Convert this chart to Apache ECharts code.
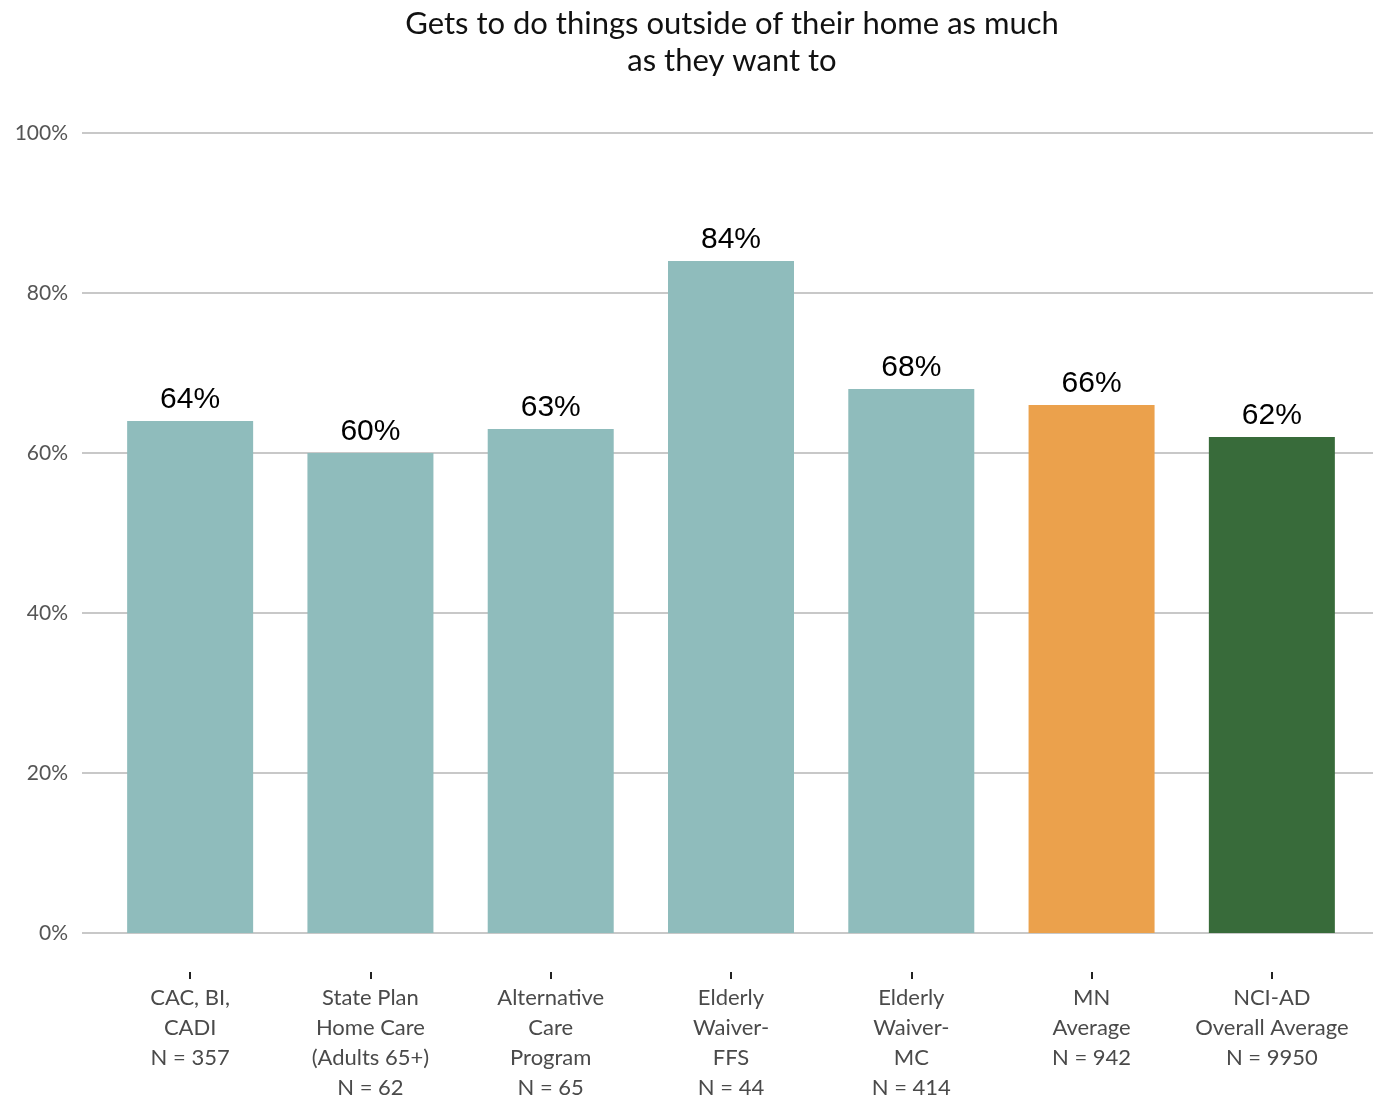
<!DOCTYPE html>
<html>
<head>
<meta charset="utf-8">
<script src="https://cdn.jsdelivr.net/npm/echarts@6/dist/echarts.min.js"></script>
<style>
  html, body { margin: 0; padding: 0; background: #ffffff; }
  #chart { width: 1373px; height: 1098px; }
</style>
</head>
<body>
<div id="chart"></div>
<script>
// Programme categories (label lines joined by \n)
const categories = [
  'CAC, BI,\nCADI\nN = 357',
  'State Plan\nHome Care\n(Adults 65+)\nN = 62',
  'Alternative\nCare\nProgram\nN = 65',
  'Elderly\nWaiver-\nFFS\nN = 44',
  'Elderly\nWaiver-\nMC\nN = 414',
  'MN\nAverage\nN = 942',
  'NCI-AD\nOverall Average\nN = 9950'
];
// Percent answering yes
const values = [64, 60, 63, 84, 68, 66, 62];
// Bar fill per category
const barColors = ['#8fbcbc', '#8fbcbc', '#8fbcbc', '#8fbcbc', '#8fbcbc', '#eba14c', '#386b3a'];
// Y axis tick values
const yTicks = [0, 20, 40, 60, 80, 100];

const labelFont = 'Lato, "Open Sans", sans-serif';

const chart = echarts.init(document.getElementById('chart'), null, { renderer: 'canvas' });

chart.setOption({
  animation: false,
  backgroundColor: '#ffffff',
  title: {
    text: 'Gets to do things outside of their home as much\nas they want to',
    left: 727,
    textAlign: 'center',
    top: 0,
    textStyle: {
      fontFamily: labelFont,
      fontWeight: 'normal',
      fontSize: 31,
      lineHeight: 37,
      color: '#111111'
    }
  },
  grid: [
    // bars
    { left: 100, right: 11, top: 133, bottom: 165, outerBoundsMode: 'none' },
    // full-width gridlines and y labels
    { left: 82, right: 0, top: 133, bottom: 165, outerBoundsMode: 'none' },
    // category ticks and labels, set below the baseline
    { left: 100, right: 11, top: 133, bottom: 126, outerBoundsMode: 'none' }
  ],
  xAxis: [
    {
      type: 'category',
      gridIndex: 0,
      data: categories,
      show: false
    },
    {
      type: 'category',
      gridIndex: 1,
      data: [''],
      show: false
    },
    {
      type: 'category',
      gridIndex: 2,
      data: categories,
      axisLine: { show: false },
      axisTick: { show: true, alignWithLabel: true, length: 7, lineStyle: { color: '#222222', width: 2 } },
      axisLabel: {
        interval: 0,
        margin: 11,
        fontFamily: labelFont,
        fontSize: 22,
        lineHeight: 30,
        color: '#4a4a4a'
      },
      splitLine: { show: false }
    }
  ],
  yAxis: [
    {
      type: 'value',
      gridIndex: 0,
      min: 0,
      max: 100,
      interval: 20,
      show: false
    },
    {
      type: 'value',
      gridIndex: 1,
      min: yTicks[0],
      max: yTicks[yTicks.length - 1],
      interval: yTicks[1] - yTicks[0],
      axisLine: { show: false },
      axisTick: { show: false },
      axisLabel: {
        margin: 14,
        fontFamily: labelFont,
        fontSize: 21,
        color: '#555555',
        formatter: v => v + '%'
      },
      splitLine: { show: true, lineStyle: { color: '#c8c8c8', width: 2 } }
    },
    {
      type: 'value',
      gridIndex: 2,
      min: 0,
      max: 100,
      show: false
    }
  ],
  series: [
    {
      type: 'bar',
      xAxisIndex: 0,
      yAxisIndex: 0,
      barWidth: 126,
      data: values.map((v, i) => ({ value: v, itemStyle: { color: barColors[i] } })),
      label: {
        show: true,
        position: 'top',
        distance: 6,
        formatter: p => p.value + '%',
        fontFamily: '"Liberation Sans", Arial, sans-serif',
        fontSize: 30,
        color: '#000000'
      },
      z: 3
    }
  ]
});
</script>
</body>
</html>
